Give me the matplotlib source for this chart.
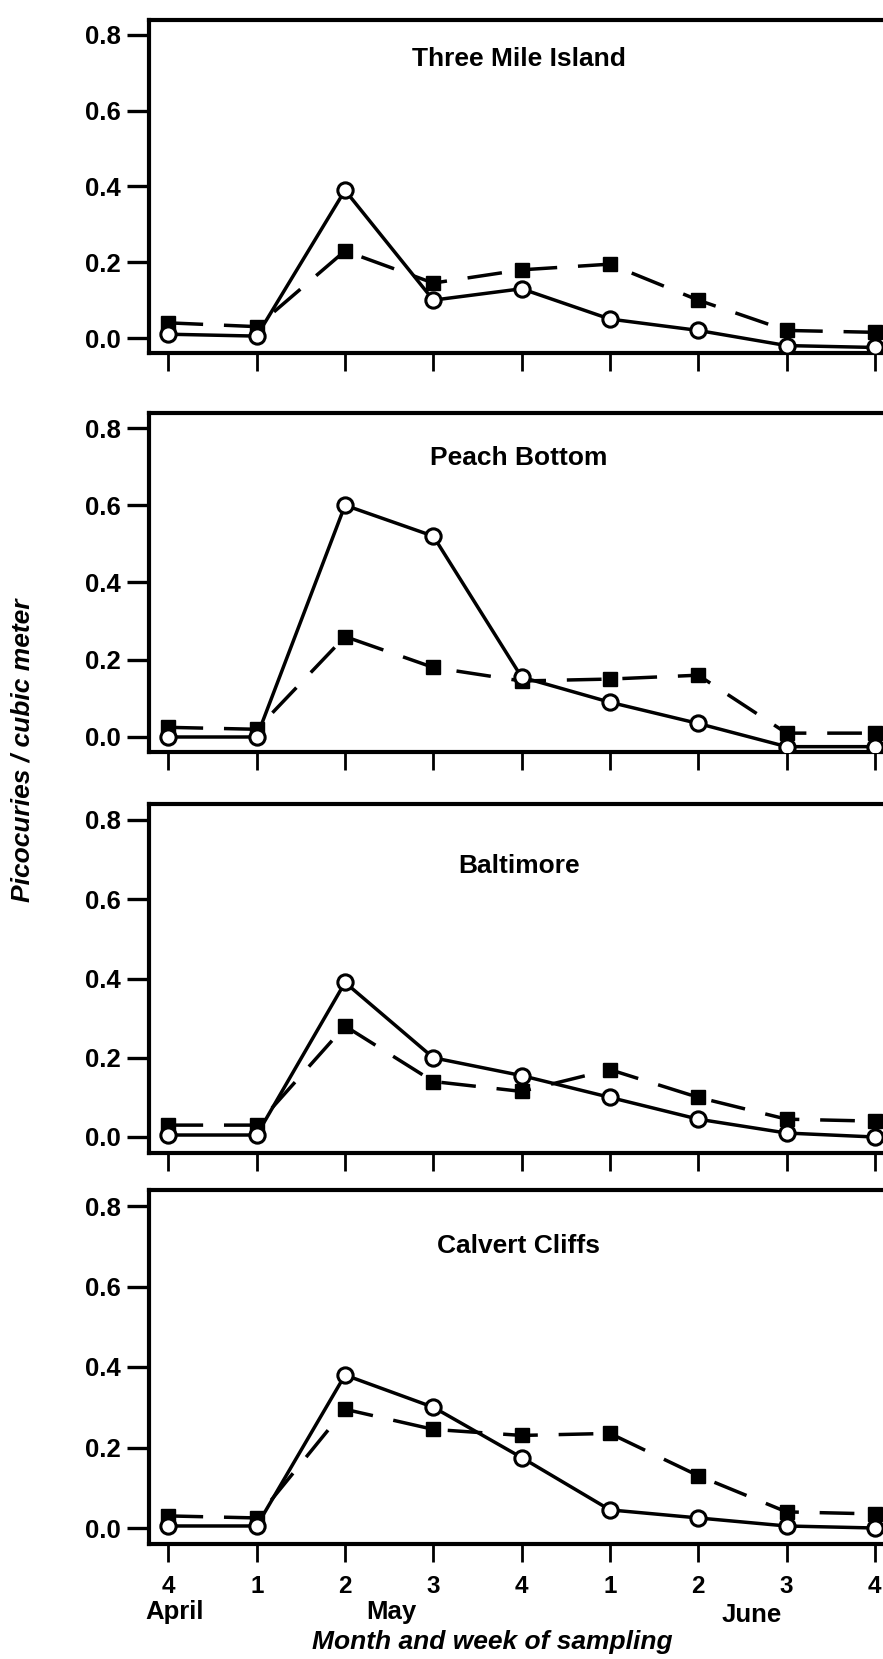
import matplotlib
matplotlib.use("Agg")
import matplotlib.pyplot as plt
from matplotlib.ticker import FormatStrFormatter
from matplotlib.transforms import blended_transform_factory

# ---------------- data ----------------
weeks = ["4", "1", "2", "3", "4", "1", "2", "3", "4"]
months = ["April", "May", "June"]
sites = ["Three Mile Island", "Peach Bottom", "Baltimore", "Calvert Cliffs"]
y_ticks = [0.0, 0.2, 0.4, 0.6, 0.8]

tmi_open = [0.01, 0.005, 0.39, 0.10, 0.13, 0.05, 0.02, -0.02, -0.025]
tmi_filled = [0.04, 0.03, 0.23, 0.145, 0.18, 0.195, 0.10, 0.02, 0.015]
pb_open = [0.0, 0.0, 0.60, 0.52, 0.155, 0.09, 0.035, -0.025, -0.025]
pb_filled = [0.025, 0.02, 0.26, 0.18, 0.145, 0.15, 0.16, 0.01, 0.01]
bal_open = [0.005, 0.005, 0.39, 0.20, 0.155, 0.10, 0.045, 0.01, 0.0]
bal_filled = [0.03, 0.03, 0.28, 0.14, 0.115, 0.17, 0.10, 0.045, 0.04]
cc_open = [0.005, 0.005, 0.38, 0.30, 0.175, 0.045, 0.025, 0.005, 0.0]
cc_filled = [0.03, 0.025, 0.295, 0.245, 0.23, 0.235, 0.13, 0.04, 0.035]

open_series = [tmi_open, pb_open, bal_open, cc_open]
filled_series = [tmi_filled, pb_filled, bal_filled, cc_filled]

# ---------------- layout ----------------
W, H = 883, 1659
plt.rcParams['font.family'] = ['Liberation Sans', 'DejaVu Sans']
plt.rcParams['font.weight'] = 'bold'

fig = plt.figure(figsize=(W / 100, H / 100), dpi=100)

panel_px = [(338, 35), (737, 428), (1137, 820), (1528, 1206)]  # pixel rows of 0.0 and 0.8
title_y = [0.718, 0.704, 0.666, 0.683]
YLO, YHI = -0.04, 0.84
XLO, XHI = -0.22, 8.3
left_px = 149
unit_x = 88.3
month_x = [0.07, 2.52, 6.6]

x = list(range(len(weeks)))
axes = []
for i in range(4):
    y0, y8 = panel_px[i]
    s = (y0 - y8) / 0.8
    top = y8 - (YHI - 0.8) * s
    bot = y0 - YLO * s
    wpx = (XHI - XLO) * unit_x
    ax = fig.add_axes([left_px / W, 1 - bot / H, wpx / W, (bot - top) / H])
    axes.append(ax)

    ax.plot(x, filled_series[i], color='black', lw=2.5, dashes=(10, 6),
            marker='s', markersize=10.5, markerfacecolor='black',
            markeredgecolor='black', zorder=3)
    ax.plot(x, open_series[i], color='black', lw=2.5, linestyle='-',
            marker='o', markersize=11, markerfacecolor='white',
            markeredgecolor='black', markeredgewidth=2.2, zorder=4)

    ax.set_xlim(XLO, XHI)
    ax.set_ylim(YLO, YHI)
    ax.set_yticks(y_ticks)
    ax.yaxis.set_major_formatter(FormatStrFormatter('%.1f'))
    ax.set_xticks(x)
    if i == 3:
        ax.set_xticklabels(weeks)
    else:
        ax.set_xticklabels([])
    ax.tick_params(axis='y', direction='out', length=16, width=2.4,
                   labelsize=18.5, pad=4)
    ax.tick_params(axis='x', direction='out', length=13, width=2.0,
                   labelsize=17.5, pad=9)
    for sp in ax.spines.values():
        sp.set_linewidth(3.0)
    ax.text(3.97, title_y[i], sites[i], ha='center', va='baseline',
            fontsize=19, fontweight='bold')

# month labels
ax = axes[3]
tr = blended_transform_factory(ax.transData, fig.transFigure)
month_y = [1612, 1612, 1615]
for m, mx, my in zip(months, month_x, month_y):
    ax.text(mx, 1 - my / H, m, transform=tr, ha='center', va='center',
            fontsize=18.5, fontweight='bold', clip_on=False)

fig.text(492 / W, 1 - 1642 / H, "Month and week of sampling", ha='center',
         va='center', fontsize=19, fontweight='bold', fontstyle='italic')
fig.text(23 / W, 1 - 750 / H, "Picocuries / cubic meter", ha='center',
         va='center', rotation=90, fontsize=19, fontweight='bold',
         fontstyle='italic')

fig.savefig('out.png', dpi=100)
